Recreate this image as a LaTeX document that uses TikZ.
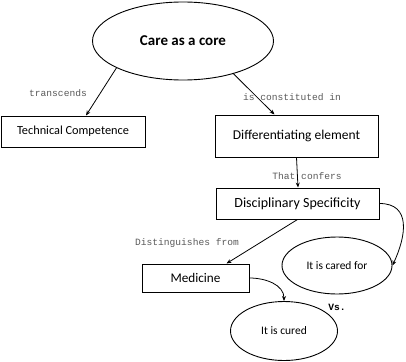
\documentclass[tikz,border=0pt]{standalone}
\usepackage{fontspec}
\setmainfont{Carlito}
\setmonofont{Liberation Mono}
\usetikzlibrary{arrows.meta, shapes.geometric}

\tikzset{
	concept/.style={draw, line width=1pt, fill=white, inner sep=0pt},
	oval/.style={draw, ellipse, line width=0.9pt, fill=white, inner sep=0pt},
	linklabel/.style={font=\ttfamily\fontsize{9.6}{11}\selectfont, text=black!65},
	link/.style={-{Stealth[length=5pt, width=4pt]}, line width=0.8pt}
}

\begin{document}
\begin{tikzpicture}[x=1pt, y=-1pt]
		\useasboundingbox (0, 0) rectangle (406, 361);
		% Ideia central
		\node[oval, minimum width=181pt, minimum height=78pt, font=\fontsize{15}{17}\selectfont\bfseries] (core) at (183, 41) {Care as a core};
		% Primeiro nivel
		\node[concept, minimum width=144pt, minimum height=31pt, font=\fontsize{12.3}{14}\selectfont] (tech) at (73, 131.5) {Technical Competence};
		\node[concept, minimum width=163pt, minimum height=42pt, font=\fontsize{13.5}{15}\selectfont] (diff) at (296.5, 136) {Differentiating element};
		% Segundo nivel
		\node[concept, minimum width=163pt, minimum height=31pt, font=\fontsize{14}{16}\selectfont] (spec) at (297.5, 203.5) {Disciplinary Specificity};
		\node[concept, minimum width=107pt, minimum height=28pt, font=\fontsize{13.2}{15}\selectfont] (med) at (195.5, 278) {Medicine};
		% Elipses
		\node[oval, minimum width=110pt, minimum height=57pt, font=\fontsize{11.5}{13}\selectfont] (caredfor) at (337, 265.5) {It is cared for};
		\node[oval, minimum width=107pt, minimum height=59pt, font=\fontsize{11.5}{13}\selectfont] (cured) at (284, 331) {It is cured};
		
		% Ligacoes
		\draw[link] (core.202) -- ([xshift=13pt]tech.north);
		\draw[link] (core.327) -- ([xshift=-22pt]diff.north);
		\draw[link] (diff.south) -- ([xshift=0.5pt]spec.north);
		\draw[link] (spec.south) -- ([xshift=31pt]med.north);
		\draw[link] (spec.east) to[out=0, in=65, looseness=1.3] (caredfor.east);
		\draw[link] (med.east) to[out=0, in=90] (cured.north);
		
		% Rotulos
		\node[linklabel] (lbltrans) at (58, 93) {transcends};
		\node[linklabel] (lblconst) at (292, 97) {is constituted in};
		\node[linklabel] (lblconf) at (307, 176) {That confers};
		\node[linklabel] (lbldist) at (187, 243) {Distinguishes from};
		\node[font=\ttfamily\bfseries\fontsize{9.6}{11}\selectfont] (vs) at (337, 307) {Vs.};
	\end{tikzpicture}
\end{document}
